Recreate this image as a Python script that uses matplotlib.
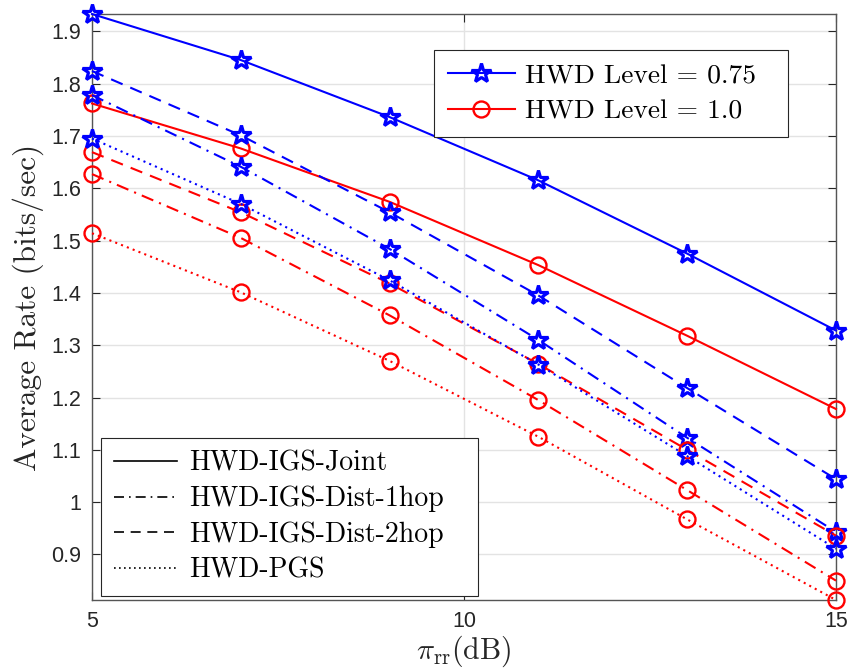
import matplotlib
matplotlib.use("Agg")
import matplotlib.pyplot as plt
from matplotlib.lines import Line2D

plt.rcParams['mathtext.fontset'] = 'cm'
plt.rcParams['font.family'] = ['Liberation Sans', 'DejaVu Sans']

x = [5, 7, 9, 11, 13, 15]
joint_075 = [1.933, 1.845, 1.736, 1.615, 1.475, 1.328]
joint_10 = [1.762, 1.676, 1.574, 1.453, 1.318, 1.178]
dist1_075 = [1.778, 1.641, 1.484, 1.310, 1.123, 0.943]
dist1_10 = [1.627, 1.505, 1.357, 1.195, 1.023, 0.850]
dist2_075 = [1.824, 1.701, 1.554, 1.395, 1.218, 1.044]
dist2_10 = [1.669, 1.554, 1.418, 1.264, 1.100, 0.936]
pgs_075 = [1.695, 1.570, 1.424, 1.263, 1.088, 0.911]
pgs_10 = [1.514, 1.401, 1.270, 1.125, 0.967, 0.813]

xticks = [5, 10, 15]
yticks = [0.9, 1.0, 1.1, 1.2, 1.3, 1.4, 1.5, 1.6, 1.7, 1.8, 1.9]
ytick_labels = ['0.9', '1', '1.1', '1.2', '1.3', '1.4', '1.5', '1.6', '1.7', '1.8', '1.9']

styles = {
    'solid': '-',
    'dashdot': (0, (6, 3, 1, 3)),
    'dashed': (0, (6, 4)),
    'dotted': (0, (1, 2)),
}

fig = plt.figure(figsize=(8.5, 6.72), dpi=100)
ax = fig.add_axes([92/850, 72/672, 744/850, 586/672])

blue = (0, 0, 1)
red = (1, 0, 0)
lw = 1.5
ms_star = 14.5
ms_circ = 11.5
mew_star = 2.3
mew_circ = 1.7

series = [
    (joint_075, blue, 'solid', '*'),
    (joint_10, red, 'solid', 'o'),
    (dist1_075, blue, 'dashdot', '*'),
    (dist1_10, red, 'dashdot', 'o'),
    (dist2_075, blue, 'dashed', '*'),
    (dist2_10, red, 'dashed', 'o'),
    (pgs_075, blue, 'dotted', '*'),
    (pgs_10, red, 'dotted', 'o'),
]
for ys, c, st, m in series:
    ax.plot(x, ys, color=c, linestyle=styles[st], lw=lw, marker=m,
            markersize=ms_star if m == '*' else ms_circ,
            markerfacecolor='none', markeredgecolor=c,
            markeredgewidth=mew_star if m == '*' else mew_circ,
            clip_on=False, zorder=3)

allv = joint_075 + joint_10 + dist1_075 + dist1_10 + dist2_075 + dist2_10 + pgs_075 + pgs_10
ax.set_xlim(5, 15)
ax.set_ylim(min(allv), max(allv))
ax.set_xticks(xticks)
ax.set_yticks(yticks)
ax.set_yticklabels(ytick_labels)
ax.grid(True, color='#e3e3e3', lw=1.0)
ax.set_axisbelow(True)
ax.tick_params(direction='in', length=6, width=0.8, colors='#262626', labelsize=15.5,
               top=True, right=True, pad=8)
for sp in ax.spines.values():
    sp.set_color('#555555')
    sp.set_linewidth(1.0)

ax.set_ylabel('Average Rate (bits/sec)', fontfamily='cmr10', fontsize=22.5, color='#262626', labelpad=5)
ax.set_xlabel(r'$\pi_{\rm rr}(\mathrm{dB})$', fontsize=21.5, color='#262626', labelpad=1)

h1 = [Line2D([], [], color=blue, lw=lw, marker='*', markersize=ms_star, markerfacecolor='none', markeredgewidth=mew_star),
      Line2D([], [], color=red, lw=lw, marker='o', markersize=ms_circ, markerfacecolor='none', markeredgewidth=mew_circ)]
leg1 = ax.legend(h1, ['HWD Level = 0.75', 'HWD Level = 1.0'], loc='upper left',
                 bbox_to_anchor=((434-92)/744, (600-50)/586, (788-434)/744, 0), mode='expand',
                 borderaxespad=0, fancybox=False,
                 edgecolor='#262626', framealpha=1, prop={'family': 'cmr10', 'size': 19.8},
                 handlelength=2.45, labelspacing=0.4, borderpad=0.5, handletextpad=0.35)
leg1.get_frame().set_linewidth(0.8)
ax.add_artist(leg1)

h2 = [Line2D([], [], color='k', lw=1.2, linestyle=styles[s]) for s in ['solid', 'dashdot', 'dashed', 'dotted']]
leg2 = ax.legend(h2, ['HWD-IGS-Joint', 'HWD-IGS-Dist-1hop', 'HWD-IGS-Dist-2hop', 'HWD-PGS'],
                 loc='lower left', bbox_to_anchor=((101-92)/744, (600-596)/586, (478-101)/744, 0),
                 mode='expand', borderaxespad=0, fancybox=False,
                 edgecolor='#262626', framealpha=1, prop={'family': 'cmr10', 'size': 20},
                 handlelength=2.27, labelspacing=0.33, borderpad=0.45, handletextpad=0.47)
leg2.get_frame().set_linewidth(0.8)

fig.savefig('out.png', dpi=100)
